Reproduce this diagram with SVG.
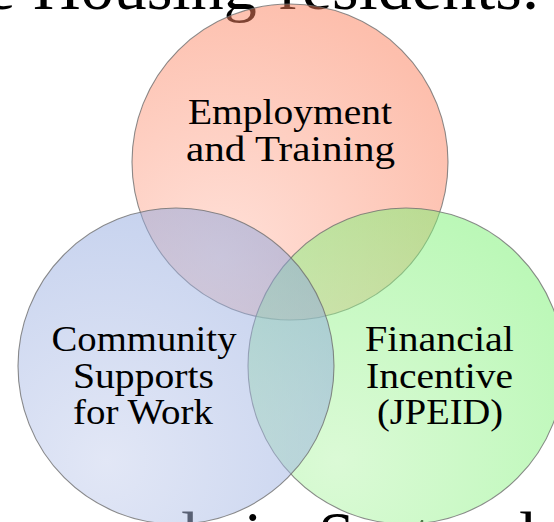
<svg xmlns="http://www.w3.org/2000/svg" width="554" height="522" viewBox="0 0 554 522">
  <style>
    .bg { font-family: "Liberation Serif", "Times New Roman", serif; font-size: 66px; fill: #000; }
    .lbl { font-family: "Liberation Serif", "Times New Roman", serif; font-size: 36px; fill: #000; text-anchor: middle; }
    .ring { stroke: #6e6e6e; stroke-opacity: 0.8; stroke-width: 1.1; fill-opacity: 0.5; }
  </style>
  <defs>
    <radialGradient id="gTop" cx="0.28" cy="0.8" r="0.85">
      <stop offset="0" stop-color="#ffc1b1"/>
      <stop offset="1" stop-color="#fb7f5b"/>
    </radialGradient>
    <radialGradient id="gLeft" cx="0.28" cy="0.8" r="0.85">
      <stop offset="0" stop-color="#c5cfed"/>
      <stop offset="1" stop-color="#8da5dd"/>
    </radialGradient>
    <radialGradient id="gRight" cx="0.28" cy="0.8" r="0.85">
      <stop offset="0" stop-color="#b7f5ad"/>
      <stop offset="1" stop-color="#79f171"/>
    </radialGradient>
  </defs>
  <rect width="554" height="522" fill="#ffffff"/>
  <g id="background-text">
    <text class="bg" y="9"><tspan x="-14">e</tspan><tspan x="33">Housing</tspan><tspan x="279" textLength="260" lengthAdjust="spacingAndGlyphs">residents.</tspan></text>
    <text class="bg" y="557"><tspan x="148">ole</tspan><tspan x="244">in</tspan><tspan x="318">Sector</tspan><tspan x="519">l</tspan></text>
  </g>
  <g id="connectors"></g>
  <g id="employment-training">
    <circle class="ring" cx="290" cy="162" r="158" fill="url(#gTop)"/>
    <text class="lbl" x="290" y="124" textLength="204" lengthAdjust="spacingAndGlyphs">Employment</text>
    <text class="lbl" x="290.5" y="161" textLength="209" lengthAdjust="spacingAndGlyphs">and Training</text>
  </g>
  <g id="financial-incentive">
    <circle class="ring" cx="406" cy="366" r="158" fill="url(#gRight)"/>
    <text class="lbl" x="439.5" y="351" textLength="149" lengthAdjust="spacingAndGlyphs">Financial</text>
    <text class="lbl" x="439.5" y="388" textLength="147" lengthAdjust="spacingAndGlyphs">Incentive</text>
    <text class="lbl" x="440" y="424" textLength="126" lengthAdjust="spacingAndGlyphs">(JPEID)</text>
  </g>
  <g id="community-supports">
    <circle class="ring" cx="176" cy="366" r="158" fill="url(#gLeft)"/>
    <text class="lbl" x="144" y="351" textLength="185" lengthAdjust="spacingAndGlyphs">Community</text>
    <text class="lbl" x="143.5" y="388" textLength="141" lengthAdjust="spacingAndGlyphs">Supports</text>
    <text class="lbl" x="143" y="424" textLength="140" lengthAdjust="spacingAndGlyphs">for Work</text>
  </g>
</svg>
